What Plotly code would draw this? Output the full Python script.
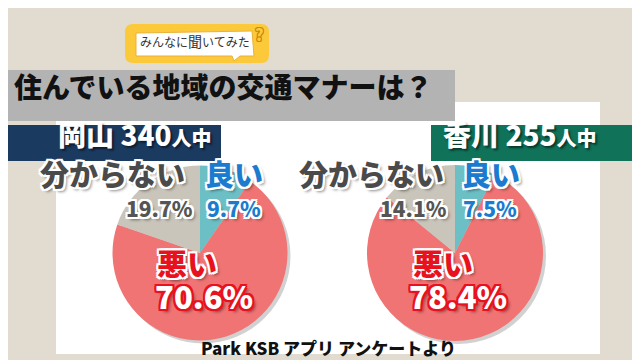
import plotly.graph_objects as go

# ---- data ----
categories = ["良い", "悪い", "分からない"]
okayama_values = [9.7, 70.6, 19.7]
kagawa_values = [7.5, 78.4, 14.1]
region_titles = ["岡山", "香川"]
region_counts = [340, 255]
title_text = "住んでいる地域の交通マナーは？"
badge_text = "みんなに聞いてみた"
source_text = "Park KSB アプリ アンケートより"

# ---- style ----
W, H = 640, 360
BG = "#e2dcd0"
slice_colors = ["#6cc0c5", "#f07474", "#c9c5ba"]
FONT = "Noto Sans CJK JP"


def outline(color, w=2, drop=True):
    offs = [(-w, -w), (w, -w), (-w, w), (w, w), (0, w), (w, 0), (0, -w), (-w, 0)]
    parts = [f"{dx}px {dy}px 0 {color}" for dx, dy in offs]
    if drop:
        parts.append("3px 3px 3px rgba(0,0,0,0.45)")
    return ", ".join(parts)


fig = go.Figure()

pies = [
    (okayama_values, (192, 245), 87.5),
    (kagawa_values, (447, 245), 88),
]
for vals, (cx, cy), r in pies:
    fig.add_trace(go.Pie(
        labels=categories, values=vals, sort=False, direction="clockwise",
        rotation=0, marker=dict(colors=slice_colors, line=dict(width=0)),
        textinfo="none", hoverinfo="skip", showlegend=False,
        domain=dict(x=[(cx - r) / W, (cx + r) / W],
                    y=[(H - cy - r) / H, (H - cy + r) / H]),
    ))

shapes = [
    # white panel
    dict(type="rect", x0=48, y0=94, x1=592, y1=346, fillcolor="white", line_width=0, layer="below"),
    # title band
    dict(type="rect", x0=0, y0=62, x1=447, y1=113, fillcolor="#b3b3b3", line_width=0, layer="below"),
    # headers
    dict(type="rect", x0=0, y0=117, x1=213, y1=153, fillcolor="#1b3a60", line_width=0, layer="below"),
    dict(type="rect", x0=423, y0=117, x1=640, y1=153, fillcolor="#0f7259", line_width=0, layer="below"),
    # badge yellow
    dict(type="path", path="M 125 16 L 253 16 Q 261 16 261 24 L 261 47 Q 261 55 253 55 L 125 55 Q 117 55 117 47 L 117 24 Q 117 16 125 16 Z",
         fillcolor="#fcc93b", line_width=0, layer="below"),
    # speech bubble
    dict(type="path", path="M 128 25 L 244 23 L 246 48 L 232 48 L 226 53 L 224 48 L 128 48 Z",
         fillcolor="white", line=dict(color="#e9b23a", width=1), layer="below"),
]
# pie drop shadows
for _, (cx, cy), r in pies:
    shapes.append(dict(type="circle", x0=cx - r + 3, x1=cx + r + 3, y0=cy - r + 3, y1=cy + r + 3,
                       fillcolor="rgba(0,0,0,0.18)", line_width=0, layer="below"))

annotations = []


def ann(x, y, text, size, color, shadow=None, weight=900, xanchor="center"):
    annotations.append(dict(
        x=x, y=y, xref="x", yref="y", text=text, showarrow=False,
        xanchor=xanchor, yanchor="middle", yshift=round(0.35 * size),
        font=dict(family=FONT, size=size, color=color, weight=weight,
                  shadow=shadow if shadow else "none"),
    ))


# badge text & title
ann(187, 37, "みんなに<span style='font-size:14px'>聞</span>いてみた", 12, "#333333", weight="normal")
ann(251, 32, "?", 16, "#fcc93b", shadow=outline("#c98a10", 1, False))
ann(4, 88, title_text, 28, "#111111", xanchor="left")

# headers
hdr_shadow = "2px 2px 2px rgba(0,0,0,0.5)"
ann(127, 136, f"{region_titles[0]} {region_counts[0]}<span style='font-size:20px'>人中</span>", 28, "white", hdr_shadow)
ann(512, 136, f"{region_titles[1]} {region_counts[1]}<span style='font-size:20px'>人中</span>", 28, "white", hdr_shadow)

# pie labels
label_pos = [
    dict(unk=104, good=226, unk_p=151, good_p=226, bad=179, bad_p=196),
    dict(unk=363, good=483, unk_p=405, good_p=482, bad=435, bad_p=450),
]
GRAY_T, BLUE_T, RED_T = "#4a4a4a", "#1a7bcf", "#e8121e"
for vals, p in zip([okayama_values, kagawa_values], label_pos):
    ann(p["unk"], 175, categories[2], 29, GRAY_T, outline("white"))
    ann(p["good"], 175, categories[0], 29, BLUE_T, outline("white"))
    ann(p["unk_p"], 207, f"{vals[2]}%", 21, "#555555", outline("white"))
    ann(p["good_p"], 207, f"{vals[0]}%", 21, BLUE_T, outline("white"))
    ann(p["bad"], 264, categories[1], 30, RED_T, outline("white"))
    ann(p["bad_p"], 298, f"{vals[1]}%", 31, "white", outline(RED_T))

ann(320, 345, source_text, 17, "#111111")

fig.update_layout(
    width=W, height=H, margin=dict(l=0, r=0, t=0, b=0),
    paper_bgcolor=BG, plot_bgcolor=BG,
    xaxis=dict(range=[0, W], visible=False, fixedrange=True),
    yaxis=dict(range=[H, 0], visible=False, fixedrange=True),
    shapes=shapes, annotations=annotations, showlegend=False,
)
fig.write_html("out.html")
